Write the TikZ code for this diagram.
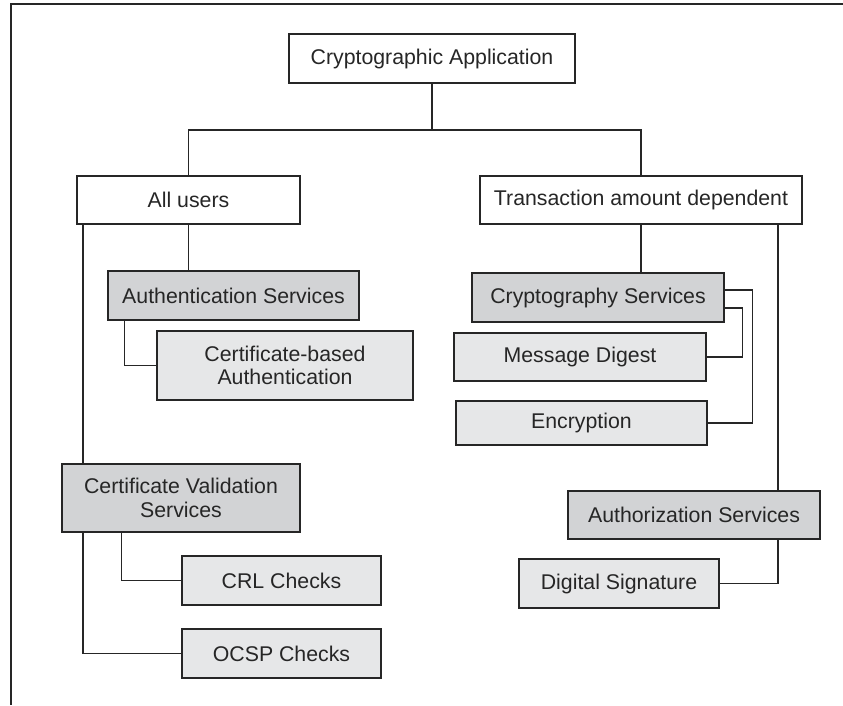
\documentclass[tikz,border=0pt]{standalone}
\usepackage{fontspec}
\setmainfont{Liberation Sans}
\usetikzlibrary{calc}
\definecolor{ink}{HTML}{262626}
\definecolor{darkfill}{HTML}{D2D3D5}
\definecolor{lightfill}{HTML}{E6E7E8}
\begin{document}
\begin{tikzpicture}[x=1pt, y=-1pt,
  box/.style={draw=ink, line width=1.3pt, fill=white, inner sep=0pt,
    align=center, text=ink, font=\fontsize{21.3}{23.5}\selectfont},
  mainbox/.style={box, fill=darkfill},
  subbox/.style={box, fill=lightfill},
  link/.style={draw=ink, line width=1.2pt},
  frame/.style={draw=ink, line width=2.6pt}]
\useasboundingbox (0,0) rectangle (843,705);

% outer frame (top and left edges only)
\draw[frame] (843,4) -- (11,4) -- (11,705);

% top level
\node[box, minimum width=286pt, minimum height=49pt] (app) at (432,58.5) {Cryptographic Application};
\node[box, minimum width=223pt, minimum height=48pt] (all) at (188.5,200) {All users};
\node[box, minimum width=322pt, minimum height=48pt] (trans) at (641,200) {Transaction amount dependent};

% left branch
\node[mainbox, minimum width=251pt, minimum height=49pt] (auth) at (233.5,295.5) {Authentication Services};
\node[subbox, minimum width=256pt, minimum height=69pt] (certauth) at (285,365.5) {Certificate-based\\Authentication};
\node[mainbox, minimum width=238pt, minimum height=68pt] (cvs) at (181,498) {Certificate Validation\\Services};
\node[subbox, minimum width=199pt, minimum height=49pt] (crl) at (281.5,580.5) {CRL Checks};
\node[subbox, minimum width=199pt, minimum height=49pt] (ocsp) at (281.5,653.5) {OCSP Checks};

% right branch
\node[mainbox, minimum width=252pt, minimum height=49pt] (crypto) at (598,297.5) {Cryptography Services};
\node[subbox, minimum width=252pt, minimum height=48pt] (md) at (580,357) {Message Digest};
\node[subbox, minimum width=251pt, minimum height=44pt] (enc) at (581.5,423) {Encryption};
\node[mainbox, minimum width=252pt, minimum height=48pt] (authz) at (694,515) {Authorization Services};
\node[subbox, minimum width=200pt, minimum height=49pt] (ds) at (619,583.5) {Digital Signature};

% routing guides
\coordinate (bar) at (432,130);
\coordinate (lline) at (83,0);
\coordinate (authx) at (124.3,0);
\coordinate (cvsx) at (121.7,0);
\coordinate (mdx) at (742.7,0);
\coordinate (encx) at (752.3,0);
\coordinate (rline) at (778,0);

% connectors
\draw[link] (app.south) -- (bar);
\draw[link] (all.north) |- (bar) -| (trans.north);
\draw[link] (all.south) -- (all.south |- auth.north);
\draw[link] (all.south -| lline) -- (cvs.north -| lline);
\draw[link] (cvs.south -| lline) |- (ocsp.west);
\draw[link] (auth.south -| authx) |- (certauth.west);
\draw[link] (cvs.south -| cvsx) |- (crl.west);
\draw[link] (trans.south) -- (trans.south |- crypto.north);
\draw[link] ([yshift=-10.5pt]crypto.east) -| (mdx |- md.east) -- (md.east);
\draw[link] ([yshift=7.5pt]crypto.east) -| (encx |- enc.east) -- (enc.east);
\draw[link] (trans.south -| rline) -- (authz.north -| rline);
\draw[link] (authz.south -| rline) |- (ds.east);
\end{tikzpicture}
\end{document}
